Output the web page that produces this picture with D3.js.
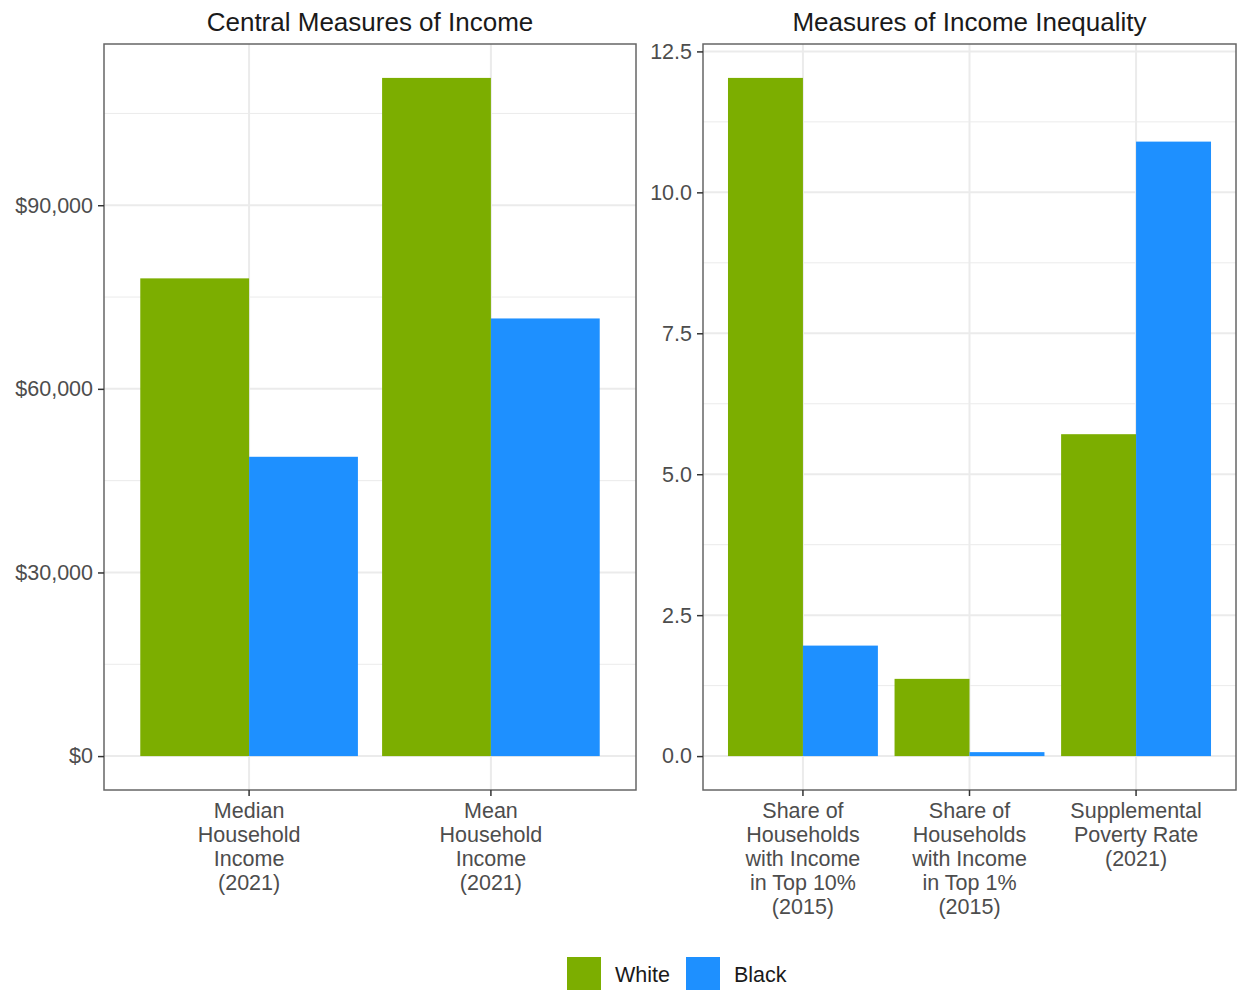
<!DOCTYPE html>
<html>
<head>
<meta charset="utf-8">
<script src="https://cdn.jsdelivr.net/npm/d3@7"></script>
<style>
  body { margin: 0; background: #fff; }
  svg { display: block; }
  text { font-family: "Liberation Sans", Arial, sans-serif; }
</style>
</head>
<body>
<svg id="chart" width="1238" height="990"></svg>
<script>
// ---- Data ----
const groups = ["White", "Black"];
const colors = ["#7CAE00", "#1E90FF"];

const incomeCategories = [
  ["Median", "Household", "Income", "(2021)"],
  ["Mean", "Household", "Income", "(2021)"]
];
const incomeWhite = [78050, 110800];
const incomeBlack = [48900, 71500];
const incomeTicks = [0, 30000, 60000, 90000];
const incomeMinor = [15000, 45000, 75000, 105000];

const ineqCategories = [
  ["Share of", "Households", "with Income", "in Top 10%", "(2015)"],
  ["Share of", "Households", "with Income", "in Top 1%", "(2015)"],
  ["Supplemental", "Poverty Rate", "(2021)"]
];
const ineqWhite = [12.03, 1.37, 5.71];
const ineqBlack = [1.96, 0.07, 10.9];
const ineqTicks = [0, 2.5, 5.0, 7.5, 10.0, 12.5];
const ineqMinor = [1.25, 3.75, 6.25, 8.75, 11.25];

const titles = ["Central Measures of Income", "Measures of Income Inequality"];

// ---- Drawing ----
const svg = d3.select("#chart");
const panelTop = 44, panelBottom = 790;
const labelFont = 21.5;

function panel(opts) {
  const { x0, x1, cats, white, black, ticks, minor, fmt, title } = opts;
  const g = svg.append("g");
  const maxV = d3.max(white.concat(black));
  const y = d3.scaleLinear().domain([-0.05 * maxV, 1.05 * maxV]).range([panelBottom, panelTop]);
  const x = d3.scaleBand().domain(d3.range(cats.length)).range([x0, x1])
    .paddingInner(0.1).paddingOuter(0.15);
  const xs = d3.scaleBand().domain(groups).range([0, x.bandwidth()]).padding(0);

  // minor grid
  g.selectAll(".minor").data(minor).join("line")
    .attr("x1", x0).attr("x2", x1)
    .attr("y1", d => y(d)).attr("y2", d => y(d))
    .attr("stroke", "#EBEBEB").attr("stroke-width", 1);
  // major grid y
  g.selectAll(".major").data(ticks).join("line")
    .attr("x1", x0).attr("x2", x1)
    .attr("y1", d => y(d)).attr("y2", d => y(d))
    .attr("stroke", "#EBEBEB").attr("stroke-width", 2);
  // major grid x
  g.selectAll(".vgrid").data(d3.range(cats.length)).join("line")
    .attr("x1", d => x(d) + x.bandwidth() / 2).attr("x2", d => x(d) + x.bandwidth() / 2)
    .attr("y1", panelTop).attr("y2", panelBottom)
    .attr("stroke", "#EBEBEB").attr("stroke-width", 2);

  // bars
  const rows = cats.map((c, i) => ({ i, vals: [white[i], black[i]] }));
  const cg = g.selectAll(".cat").data(rows).join("g")
    .attr("transform", d => `translate(${x(d.i)},0)`);
  cg.selectAll("rect").data(d => d.vals.map((v, k) => ({ v, k })))
    .join("rect")
    .attr("x", d => xs(groups[d.k]))
    .attr("width", xs.bandwidth())
    .attr("y", d => y(d.v))
    .attr("height", d => y(0) - y(d.v))
    .attr("fill", d => colors[d.k]);

  // border
  g.append("rect").attr("x", x0).attr("y", panelTop)
    .attr("width", x1 - x0).attr("height", panelBottom - panelTop)
    .attr("fill", "none").attr("stroke", "#666").attr("stroke-width", 1.5);

  // y axis
  const ya = g.append("g").attr("transform", `translate(${x0},0)`)
    .call(d3.axisLeft(y).tickValues(ticks).tickFormat(fmt).tickSize(6).tickPadding(5));
  ya.select(".domain").remove();
  ya.selectAll(".tick line").attr("stroke", "#333").attr("stroke-width", 1.5);
  ya.selectAll(".tick text").attr("fill", "#4D4D4D").attr("font-size", labelFont)
    .attr("font-family", "Liberation Sans, Arial, sans-serif");

  // x axis
  const xa = g.append("g").attr("transform", `translate(0,${panelBottom})`)
    .call(d3.axisBottom(x).tickSize(6).tickFormat(""));
  xa.select(".domain").remove();
  xa.selectAll(".tick line").attr("stroke", "#333").attr("stroke-width", 1.5);
  xa.selectAll(".tick").each(function (d) {
    const t = d3.select(this).append("text")
      .attr("fill", "#4D4D4D").attr("font-size", labelFont)
      .attr("font-family", "Liberation Sans, Arial, sans-serif")
      .attr("text-anchor", "middle");
    cats[d].forEach((line, k) => {
      t.append("tspan").attr("x", 0).attr("y", 28 + k * 24).text(line);
    });
  });

  // title
  svg.append("text").attr("x", (x0 + x1) / 2).attr("y", 31)
    .attr("text-anchor", "middle").attr("font-size", 26).attr("fill", "#1a1a1a")
    .text(title);
}

panel({
  x0: 104, x1: 636, cats: incomeCategories, white: incomeWhite, black: incomeBlack,
  ticks: incomeTicks, minor: incomeMinor, fmt: d => "$" + d3.format(",")(d), title: titles[0]
});
panel({
  x0: 703, x1: 1236, cats: ineqCategories, white: ineqWhite, black: ineqBlack,
  ticks: ineqTicks, minor: ineqMinor, fmt: d3.format(".1f"), title: titles[1]
});

// legend
const lg = svg.append("g");
const legendX = [567, 686];
groups.forEach((gname, i) => {
  lg.append("rect").attr("x", legendX[i]).attr("y", 957).attr("width", 34).attr("height", 34)
    .attr("fill", colors[i]);
  lg.append("text").attr("x", legendX[i] + 48).attr("y", 982)
    .attr("font-size", labelFont).attr("fill", "#1a1a1a").text(gname);
});
</script>
</body>
</html>
